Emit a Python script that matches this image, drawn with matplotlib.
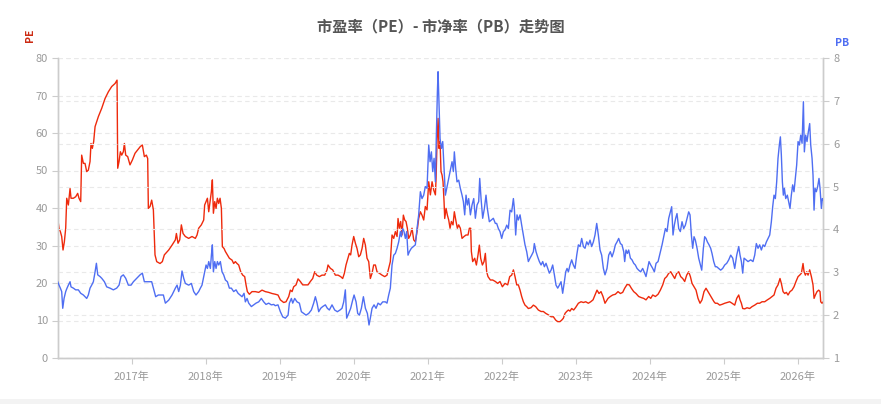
import matplotlib
matplotlib.use("Agg")
import matplotlib.pyplot as plt
from matplotlib.patches import Rectangle

plt.rcParams['font.family'] = ['Noto Sans CJK SC', 'DejaVu Sans']

title = "市盈率（PE）- 市净率（PB）走势图"
years = [2017, 2018, 2019, 2020, 2021, 2022, 2023, 2024, 2025, 2026]
year_labels = [f"{y}年" for y in years]
pe_ticks = [0, 10, 20, 30, 40, 50, 60, 70, 80]
pb_ticks = [1, 2, 3, 4, 5, 6, 7, 8]

# PE series (dates as decimal years)
pe_t = [
    2016.000, 2016.018, 2016.036, 2016.054, 2016.072, 2016.090, 2016.108, 2016.122, 2016.144, 2016.167,
    2016.180, 2016.212, 2016.243, 2016.270, 2016.288, 2016.311, 2016.324, 2016.347, 2016.369, 2016.392,
    2016.414, 2016.437, 2016.450, 2016.468, 2016.486, 2016.505, 2016.527, 2016.550, 2016.595, 2016.640,
    2016.685, 2016.730, 2016.775, 2016.802, 2016.811, 2016.829, 2016.847, 2016.865, 2016.887, 2016.901,
    2016.919, 2016.946, 2016.977, 2017.009, 2017.045, 2017.081, 2017.117, 2017.144, 2017.171, 2017.198,
    2017.216, 2017.225, 2017.248, 2017.270, 2017.293, 2017.315, 2017.338, 2017.383, 2017.414, 2017.441,
    2017.500, 2017.545, 2017.590, 2017.604, 2017.626, 2017.649, 2017.671, 2017.694, 2017.725, 2017.770,
    2017.815, 2017.860, 2017.883, 2017.905, 2017.941, 2017.973, 2017.986, 2018.005, 2018.023, 2018.041,
    2018.059, 2018.077, 2018.090, 2018.104, 2018.122, 2018.140, 2018.158, 2018.176, 2018.194, 2018.212,
    2018.225, 2018.248, 2018.266, 2018.293, 2018.320, 2018.356, 2018.378, 2018.401, 2018.423, 2018.446,
    2018.473, 2018.500, 2018.527, 2018.545, 2018.563, 2018.590, 2018.626, 2018.671, 2018.716, 2018.761,
    2018.806, 2018.851, 2018.896, 2018.941,
    2018.977, 2019.009, 2019.054, 2019.086, 2019.122, 2019.144, 2019.167, 2019.189, 2019.221, 2019.248,
    2019.279, 2019.311, 2019.347, 2019.383, 2019.414, 2019.446, 2019.473, 2019.500, 2019.536, 2019.572,
    2019.608, 2019.640, 2019.653, 2019.685, 2019.716, 2019.752, 2019.788, 2019.824, 2019.851, 2019.874,
    2019.896, 2019.923, 2019.941, 2019.959, 2019.977, 2020.000, 2020.023, 2020.045, 2020.068, 2020.090,
    2020.113, 2020.135, 2020.158, 2020.180, 2020.203, 2020.225, 2020.248, 2020.270, 2020.293, 2020.315,
    2020.347, 2020.383, 2020.419,
    2020.450, 2020.473, 2020.495, 2020.518, 2020.541, 2020.563, 2020.586, 2020.599, 2020.617, 2020.635,
    2020.653, 2020.671, 2020.689, 2020.707, 2020.725, 2020.743, 2020.766, 2020.788, 2020.811, 2020.833,
    2020.856, 2020.878, 2020.901, 2020.923, 2020.946, 2020.968, 2020.991, 2021.014, 2021.036, 2021.059,
    2021.081, 2021.104, 2021.113, 2021.126, 2021.140, 2021.153, 2021.167, 2021.180, 2021.194, 2021.207,
    2021.221, 2021.230, 2021.248, 2021.266, 2021.284, 2021.302, 2021.320, 2021.342, 2021.360, 2021.383,
    2021.401, 2021.419, 2021.441, 2021.464, 2021.491, 2021.518, 2021.545, 2021.563, 2021.581, 2021.590,
    2021.608, 2021.635, 2021.658, 2021.680, 2021.698, 2021.716, 2021.739, 2021.761, 2021.779, 2021.797,
    2021.815, 2021.847, 2021.878, 2021.914,
    2021.946, 2021.977, 2022.009, 2022.045, 2022.081, 2022.108, 2022.135, 2022.158, 2022.180, 2022.203,
    2022.225, 2022.248, 2022.270, 2022.293, 2022.315, 2022.338, 2022.360, 2022.396, 2022.428, 2022.459,
    2022.495, 2022.532, 2022.563, 2022.595, 2022.631, 2022.667, 2022.698, 2022.730, 2022.757, 2022.788,
    2022.811, 2022.833, 2022.856, 2022.878, 2022.901, 2022.923, 2022.946, 2022.973, 2023.000, 2023.036,
    2023.072, 2023.104, 2023.135, 2023.171, 2023.203, 2023.234, 2023.261, 2023.288, 2023.315, 2023.342,
    2023.369, 2023.396,
    2023.437, 2023.468, 2023.500, 2023.536, 2023.572, 2023.604, 2023.635, 2023.662, 2023.694, 2023.725,
    2023.752, 2023.784, 2023.815, 2023.851, 2023.887, 2023.919, 2023.950, 2023.986, 2024.014, 2024.041,
    2024.077, 2024.113, 2024.144, 2024.176, 2024.203, 2024.230, 2024.257, 2024.284, 2024.311, 2024.338,
    2024.365, 2024.392, 2024.419, 2024.446, 2024.473, 2024.500, 2024.527, 2024.550, 2024.572, 2024.599,
    2024.626, 2024.653, 2024.680, 2024.707, 2024.734, 2024.761, 2024.788, 2024.815, 2024.842, 2024.869,
    2024.887,
    2024.914, 2024.946, 2024.977, 2025.014, 2025.050, 2025.081, 2025.113, 2025.149, 2025.176, 2025.203,
    2025.221, 2025.239, 2025.257, 2025.284, 2025.315, 2025.351, 2025.383, 2025.419, 2025.455, 2025.486,
    2025.518, 2025.554, 2025.590, 2025.622, 2025.653, 2025.680, 2025.707, 2025.734, 2025.761, 2025.779,
    2025.802, 2025.824, 2025.847, 2025.869, 2025.896, 2025.923, 2025.950, 2025.977, 2026.005, 2026.027,
    2026.050, 2026.072, 2026.086, 2026.104, 2026.122, 2026.140, 2026.162, 2026.185, 2026.207, 2026.221,
    2026.239, 2026.261, 2026.284, 2026.302, 2026.311, 2026.329, 2026.346,
]
pe_v = [
    37.2, 34.6, 33.7, 32.4, 28.8, 31.0, 34.6, 42.6, 40.8, 45.2,
    42.6, 42.6, 43.0, 43.9, 42.6, 41.7, 54.1, 51.9, 51.9, 49.7,
    50.1, 52.4, 57.2, 55.9, 57.7, 61.7, 63.0, 64.4, 66.6, 69.2,
    71.0, 72.4, 73.2, 74.1, 50.6, 52.4, 55.0, 54.1, 55.0, 57.2,
    54.1, 53.7, 51.5, 52.8, 54.6, 55.5, 56.4, 56.8, 53.7, 54.1,
    53.2, 39.9, 40.4, 42.1, 39.5, 27.5, 25.7, 25.2, 25.7, 27.5,
    28.8, 30.1, 31.5, 33.2, 30.6, 31.5, 35.5, 33.2, 32.4, 31.9,
    32.4, 31.9, 32.8, 34.6, 35.5, 36.8, 40.8, 41.7, 42.6, 39.0,
    41.7, 44.4, 47.5, 38.6, 41.7, 39.9, 42.6, 41.2, 42.6, 39.9,
    29.7, 29.2, 28.4, 27.5, 26.6, 26.1, 25.2, 25.7, 25.2, 24.8,
    23.0, 22.1, 21.7, 19.5, 17.7, 17.0, 17.7, 17.7, 17.5, 18.1,
    17.7, 17.5, 17.2, 17.0,
    16.8, 15.5, 14.8, 15.0, 16.4, 18.1, 17.7, 19.0, 19.5, 21.1,
    20.4, 19.5, 19.5, 19.5, 20.4, 21.2, 23.0, 22.1, 21.7, 22.1,
    22.1, 23.5, 24.8, 23.9, 23.5, 22.1, 22.1, 21.7, 21.2, 22.6,
    24.8, 26.6, 27.9, 27.5, 30.1, 32.4, 30.6, 29.2, 27.0, 27.5,
    29.2, 31.9, 30.1, 26.6, 25.7, 21.2, 22.6, 24.8, 24.8, 23.0,
    22.6, 22.1, 21.7,
    22.1, 23.9, 25.7, 32.8, 31.9, 33.7, 32.4, 37.2, 34.6, 36.4,
    32.8, 38.1, 36.8, 36.4, 34.6, 31.9, 32.8, 34.6, 31.5, 31.0,
    33.7, 37.2, 39.0, 38.1, 36.8, 40.4, 39.5, 47.0, 43.5, 47.0,
    44.8, 43.5, 47.9, 57.7, 63.9, 55.9, 57.7, 49.7, 48.8, 47.0,
    41.7, 37.2, 39.9, 38.1, 36.8, 34.6, 36.4, 35.5, 39.0, 36.4,
    34.6, 35.5, 34.6, 31.9, 32.4, 32.8, 32.8, 34.6, 34.6, 28.4,
    25.7, 26.6, 24.8, 27.5, 30.1, 26.6, 24.8, 25.7, 27.9, 23.0,
    21.7, 20.8, 20.8, 20.4,
    19.9, 20.4, 19.0, 19.9, 19.5, 21.7, 22.1, 23.5, 21.7, 19.5,
    19.5, 18.1, 16.4, 15.0, 14.1, 13.7, 13.2, 13.4, 14.1, 13.7,
    12.8, 12.4, 12.4, 11.9, 11.5, 11.0, 11.0, 10.1, 9.7, 9.7,
    10.1, 10.6, 11.9, 12.4, 12.8, 12.5, 13.2, 12.8, 13.5, 14.6,
    15.0, 14.8, 15.0, 14.6, 15.0, 15.5, 16.8, 18.1, 17.2, 17.7,
    16.4, 14.6,
    15.9, 16.4, 16.8, 17.0, 17.7, 17.2, 17.5, 18.6, 19.6, 19.5,
    18.6, 17.7, 17.2, 16.4, 16.1, 15.9, 15.5, 16.4, 15.9, 16.8,
    16.4, 17.0, 18.1, 19.5, 21.2, 21.7, 22.6, 23.0, 22.1, 21.2,
    22.6, 23.0, 21.7, 21.2, 20.4, 22.1, 23.0, 21.7, 19.9, 19.0,
    18.1, 15.9, 14.6, 15.5, 17.7, 18.6, 17.7, 16.8, 15.9, 15.0,
    14.6,
    14.6, 14.1, 14.3, 14.6, 14.8, 15.0, 14.6, 14.1, 15.9, 16.8,
    15.5, 14.6, 13.2, 13.1, 13.4, 13.2, 13.7, 14.1, 14.6, 14.6,
    15.0, 15.0, 15.5, 15.9, 16.4, 16.8, 18.6, 19.5, 21.2, 19.9,
    17.7, 17.2, 17.5, 16.8, 17.7, 18.1, 19.0, 20.4, 21.7, 22.1,
    22.6, 25.2, 23.0, 22.1, 23.0, 22.1, 23.5, 21.7, 19.5, 15.9,
    16.8, 17.7, 18.1, 17.7, 15.0, 14.6, 15.0,
]

# PB series (dates as decimal years)
pb_t = [
    2016.000, 2016.018, 2016.036, 2016.054, 2016.068, 2016.086, 2016.108, 2016.126, 2016.144, 2016.167,
    2016.180, 2016.212, 2016.243, 2016.279, 2016.311, 2016.347, 2016.392, 2016.414, 2016.437, 2016.459,
    2016.482, 2016.505, 2016.523, 2016.541, 2016.572, 2016.595, 2016.631, 2016.662, 2016.707, 2016.752,
    2016.797, 2016.829, 2016.856, 2016.887, 2016.919, 2016.955, 2016.991, 2017.023, 2017.068, 2017.113,
    2017.144, 2017.171, 2017.203, 2017.234, 2017.270, 2017.293, 2017.324, 2017.360, 2017.396, 2017.428,
    2017.455, 2017.500, 2017.545, 2017.590, 2017.613, 2017.635, 2017.658, 2017.680, 2017.703, 2017.725, 2017.770,
    2017.806, 2017.838, 2017.869, 2017.905, 2017.928, 2017.950, 2017.986, 2018.005, 2018.023, 2018.041,
    2018.063, 2018.077, 2018.090, 2018.104, 2018.122, 2018.140, 2018.158, 2018.176, 2018.198, 2018.221,
    2018.243, 2018.266, 2018.293, 2018.320, 2018.347, 2018.378, 2018.410, 2018.437, 2018.464, 2018.491,
    2018.518, 2018.536, 2018.559, 2018.581, 2018.617, 2018.649, 2018.680, 2018.716, 2018.752, 2018.784,
    2018.815, 2018.851, 2018.887, 2018.919, 2018.941,
    2018.977, 2019.009, 2019.041, 2019.077, 2019.113, 2019.131, 2019.158, 2019.176, 2019.203, 2019.234,
    2019.266, 2019.293, 2019.324, 2019.356, 2019.392, 2019.428, 2019.459, 2019.482, 2019.505, 2019.527,
    2019.554, 2019.581, 2019.617, 2019.644, 2019.671, 2019.707, 2019.743, 2019.779, 2019.815, 2019.842,
    2019.865, 2019.887, 2019.905, 2019.932, 2019.959, 2019.986, 2020.005, 2020.032, 2020.054, 2020.077,
    2020.104, 2020.131, 2020.158, 2020.185, 2020.207, 2020.225, 2020.248, 2020.275, 2020.302, 2020.329,
    2020.360, 2020.392, 2020.428,
    2020.450, 2020.473, 2020.495, 2020.518, 2020.541, 2020.563, 2020.586, 2020.608, 2020.631, 2020.644,
    2020.662, 2020.680, 2020.698, 2020.716, 2020.734, 2020.752, 2020.779, 2020.806, 2020.833, 2020.856,
    2020.878, 2020.901, 2020.923, 2020.946, 2020.968, 2020.991, 2021.014, 2021.032, 2021.050, 2021.068,
    2021.086, 2021.104, 2021.117, 2021.131, 2021.140, 2021.153, 2021.167, 2021.185, 2021.203, 2021.221,
    2021.239, 2021.257, 2021.275, 2021.293, 2021.311, 2021.329, 2021.347, 2021.360, 2021.378, 2021.396,
    2021.419, 2021.441, 2021.464, 2021.482, 2021.500, 2021.518, 2021.536, 2021.554, 2021.577, 2021.599,
    2021.622, 2021.644, 2021.667, 2021.689, 2021.703, 2021.721, 2021.743, 2021.766, 2021.788, 2021.806,
    2021.833, 2021.860, 2021.887, 2021.914,
    2021.932, 2021.955, 2021.977, 2022.000, 2022.023, 2022.045, 2022.068, 2022.090, 2022.113, 2022.135,
    2022.158, 2022.171, 2022.189, 2022.207, 2022.225, 2022.248, 2022.270, 2022.293, 2022.315, 2022.338,
    2022.360, 2022.383, 2022.405, 2022.428, 2022.441, 2022.464, 2022.486, 2022.509, 2022.532, 2022.554,
    2022.577, 2022.599, 2022.622, 2022.644, 2022.667, 2022.689, 2022.712, 2022.734, 2022.757, 2022.779,
    2022.802, 2022.824, 2022.847, 2022.865, 2022.883, 2022.901, 2022.923, 2022.946, 2022.968, 2022.991,
    2023.014, 2023.036, 2023.059, 2023.081, 2023.104, 2023.126, 2023.149, 2023.171, 2023.194, 2023.216,
    2023.239, 2023.261, 2023.284, 2023.306, 2023.329, 2023.351, 2023.374, 2023.396,
    2023.423, 2023.446, 2023.468, 2023.491, 2023.514, 2023.536, 2023.559, 2023.581, 2023.604, 2023.626,
    2023.649, 2023.662, 2023.680, 2023.698, 2023.716, 2023.739, 2023.761, 2023.784, 2023.806, 2023.829,
    2023.851, 2023.878, 2023.905, 2023.932, 2023.950, 2023.968, 2023.991, 2024.014, 2024.041, 2024.063,
    2024.086, 2024.113, 2024.140, 2024.167, 2024.189, 2024.212, 2024.234, 2024.257, 2024.279, 2024.297,
    2024.315, 2024.333, 2024.351, 2024.369, 2024.392, 2024.414, 2024.437, 2024.459, 2024.482, 2024.505,
    2024.527, 2024.545, 2024.563, 2024.581, 2024.599, 2024.617, 2024.640, 2024.662, 2024.685, 2024.703,
    2024.725, 2024.743, 2024.761, 2024.779, 2024.802, 2024.824, 2024.842, 2024.865, 2024.887,
    2024.905, 2024.932, 2024.959, 2024.986, 2025.014, 2025.041, 2025.068, 2025.095, 2025.122, 2025.149,
    2025.176, 2025.203, 2025.221, 2025.239, 2025.257, 2025.275, 2025.302, 2025.329, 2025.365, 2025.396,
    2025.419, 2025.441, 2025.464, 2025.486, 2025.509, 2025.532, 2025.554, 2025.577, 2025.599, 2025.622,
    2025.644, 2025.662, 2025.680, 2025.698, 2025.716, 2025.734, 2025.752, 2025.766, 2025.779, 2025.793,
    2025.806, 2025.820, 2025.838, 2025.860, 2025.878, 2025.896, 2025.914, 2025.932, 2025.950, 2025.968,
    2025.986, 2026.005, 2026.023, 2026.041, 2026.059, 2026.077, 2026.090, 2026.108, 2026.126, 2026.144,
    2026.162, 2026.176, 2026.194, 2026.207, 2026.221, 2026.234, 2026.252, 2026.270, 2026.288, 2026.302,
    2026.320, 2026.333, 2026.346,
]
pb_v = [
    2.78, 2.70, 2.63, 2.55, 2.16, 2.39, 2.55, 2.63, 2.70, 2.78,
    2.66, 2.63, 2.59, 2.59, 2.51, 2.47, 2.39, 2.47, 2.63, 2.70,
    2.78, 3.01, 3.21, 2.94, 2.90, 2.86, 2.78, 2.66, 2.63, 2.59,
    2.63, 2.70, 2.90, 2.94, 2.86, 2.70, 2.70, 2.78, 2.86, 2.94,
    2.98, 2.78, 2.78, 2.78, 2.78, 2.63, 2.43, 2.47, 2.47, 2.47,
    2.28, 2.35, 2.47, 2.63, 2.70, 2.55, 2.70, 3.03, 2.86, 2.74, 2.70,
    2.74, 2.55, 2.47, 2.55, 2.63, 2.70, 3.01, 3.17, 3.09, 3.25,
    3.09, 3.40, 3.64, 3.01, 3.25, 3.09, 3.25, 3.17, 3.25, 3.01,
    2.94, 2.82, 2.78, 2.63, 2.63, 2.55, 2.59, 2.51, 2.47, 2.43,
    2.51, 2.31, 2.39, 2.28, 2.20, 2.24, 2.28, 2.31, 2.39, 2.31,
    2.25, 2.28, 2.24, 2.25, 2.22,
    2.24, 2.08, 1.96, 1.93, 2.00, 2.28, 2.39, 2.28, 2.39, 2.31,
    2.28, 2.08, 2.04, 2.00, 2.04, 2.12, 2.28, 2.43, 2.28, 2.08,
    2.16, 2.20, 2.24, 2.16, 2.12, 2.24, 2.12, 2.08, 2.12, 2.16,
    2.31, 2.59, 1.93, 2.04, 2.16, 2.35, 2.47, 2.31, 2.04, 2.00,
    2.16, 2.43, 2.16, 2.04, 1.77, 1.93, 2.16, 2.24, 2.16, 2.28,
    2.24, 2.31, 2.31,
    2.28, 2.47, 2.63, 3.17, 3.40, 3.44, 3.56, 3.71, 3.95, 3.83,
    4.02, 3.95, 3.79, 3.95, 3.40, 3.48, 3.56, 3.60, 3.64, 4.02,
    4.34, 4.88, 4.72, 4.80, 5.00, 4.96, 5.97, 5.58, 5.81, 5.35,
    5.66, 5.11, 6.20, 7.21, 7.68, 6.90, 6.12, 5.89, 6.05, 5.42,
    4.80, 4.96, 5.11, 5.27, 5.42, 5.58, 5.35, 5.81, 5.42, 5.11,
    5.15, 4.96, 4.80, 4.65, 4.34, 4.80, 4.57, 4.72, 4.34, 4.57,
    4.72, 4.26, 4.57, 4.65, 5.19, 4.72, 4.26, 4.49, 4.80, 4.49,
    4.18, 4.22, 4.26, 4.14,
    4.14, 4.02, 3.95, 3.79, 3.95, 3.99, 4.10, 4.02, 4.45, 4.41,
    4.72, 4.49, 3.87, 4.34, 4.22, 4.34, 4.10, 3.87, 3.64, 3.48,
    3.25, 3.33, 3.40, 3.48, 3.67, 3.48, 3.36, 3.25, 3.17, 3.25,
    3.13, 3.21, 3.09, 2.98, 3.05, 3.17, 2.94, 2.70, 2.63, 2.70,
    2.78, 2.51, 2.78, 3.01, 3.09, 3.01, 3.17, 3.29, 3.17, 3.09,
    3.40, 3.64, 3.60, 3.79, 3.60, 3.56, 3.71, 3.64, 3.75, 3.60,
    3.71, 3.87, 4.14, 3.87, 3.52, 3.40, 3.09, 2.94,
    3.09, 3.40, 3.48, 3.36, 3.48, 3.64, 3.71, 3.79, 3.67, 3.64,
    3.48, 3.25, 3.52, 3.44, 3.52, 3.33, 3.29, 3.21, 3.17, 3.09,
    3.05, 3.01, 3.09, 2.98, 2.90, 3.05, 3.25, 3.17, 3.09, 3.01,
    3.21, 3.25, 3.44, 3.64, 3.83, 4.02, 3.95, 4.26, 4.41, 4.53,
    3.87, 4.10, 4.26, 4.37, 4.02, 3.95, 4.18, 4.02, 4.10, 4.26,
    4.41, 4.34, 3.87, 3.56, 3.83, 3.75, 3.56, 3.33, 3.17, 3.05,
    3.56, 3.83, 3.79, 3.71, 3.64, 3.56, 3.44, 3.25, 3.13,
    3.13, 3.09, 3.05, 3.09, 3.17, 3.21, 3.29, 3.40, 3.33, 3.09,
    3.40, 3.60, 3.40, 3.25, 2.98, 3.33, 3.29, 3.25, 3.29, 3.25,
    3.40, 3.67, 3.56, 3.64, 3.52, 3.64, 3.60, 3.71, 3.79, 3.87,
    4.18, 4.53, 4.80, 4.72, 5.11, 5.66, 5.97, 6.16, 5.74, 5.11,
    4.80, 4.96, 4.72, 4.80, 4.65, 4.49, 4.80, 5.04, 4.88, 5.19,
    5.50, 6.05, 5.97, 6.20, 6.01, 6.98, 5.81, 6.20, 6.05, 6.28,
    6.47, 5.97, 5.66, 5.27, 4.45, 4.96, 4.88, 5.00, 5.19, 4.96,
    4.49, 4.72, 4.69,
]

assert len(pe_t) == len(pe_v), (len(pe_t), len(pe_v))
assert len(pb_t) == len(pb_v), (len(pb_t), len(pb_v))

W, H = 881, 404
fig = plt.figure(figsize=(W / 100, H / 100), dpi=100)
fig.patch.set_facecolor('white')

ax_l, ax_r, ax_top, ax_bot = 57.7, 823.3, 58.0, 358.0
ax = fig.add_axes([ax_l / W, 1 - ax_bot / H, (ax_r - ax_l) / W, (ax_bot - ax_top) / H])
ax2 = ax.twinx()

pe_color = '#ee2a0c'
pb_color = '#4f6ef2'
tick_color = '#9a9a9a'
axis_color = '#cccccc'
grid_color = '#e9e9e9'

ax.plot(pe_t, pe_v, color=pe_color, linewidth=1.0, zorder=3)
ax2.plot(pb_t, pb_v, color=pb_color, linewidth=1.0, zorder=3)

ax.set_xlim(2016.0, 2026.346)
ax.set_ylim(0, 80)
ax2.set_ylim(1, 8)

ax.set_xticks(years)
ax.set_xticklabels(year_labels)
ax.set_yticks(pe_ticks)
ax2.set_yticks(pb_ticks)

for a in (ax, ax2):
    a.set_facecolor('none')
    a.spines['top'].set_visible(False)
    for s in ('left', 'right', 'bottom'):
        a.spines[s].set_color(axis_color)
        a.spines[s].set_linewidth(1.0)
    a.tick_params(axis='both', colors=axis_color, labelcolor=tick_color,
                  labelsize=8, length=4, width=0.8)
    a.yaxis.grid(True, linestyle=(0, (4, 3)), color=grid_color, linewidth=0.8)
    a.set_axisbelow(True)

ax.tick_params(axis='x', pad=6)
ax.tick_params(axis='y', pad=3)
ax2.tick_params(axis='y', pad=3)

fig.text(0.5, 1 - 26 / H, title, ha='center', va='center', fontsize=11,
         fontweight='bold', color='#555555')
fig.text(30 / W, 1 - 35 / H, 'PE', ha='center', va='center', rotation=90,
         fontsize=7.5, color='#cc2a12', fontweight='bold')
fig.text(842 / W, 1 - 43 / H, 'PB', ha='center', va='center',
         fontsize=7.5, color=pb_color, fontweight='bold')

fig.patches.append(Rectangle((0, 0), 1, 5 / H, transform=fig.transFigure,
                             facecolor='#f3f3f3', edgecolor='none'))

fig.savefig('out.png', dpi=100)
